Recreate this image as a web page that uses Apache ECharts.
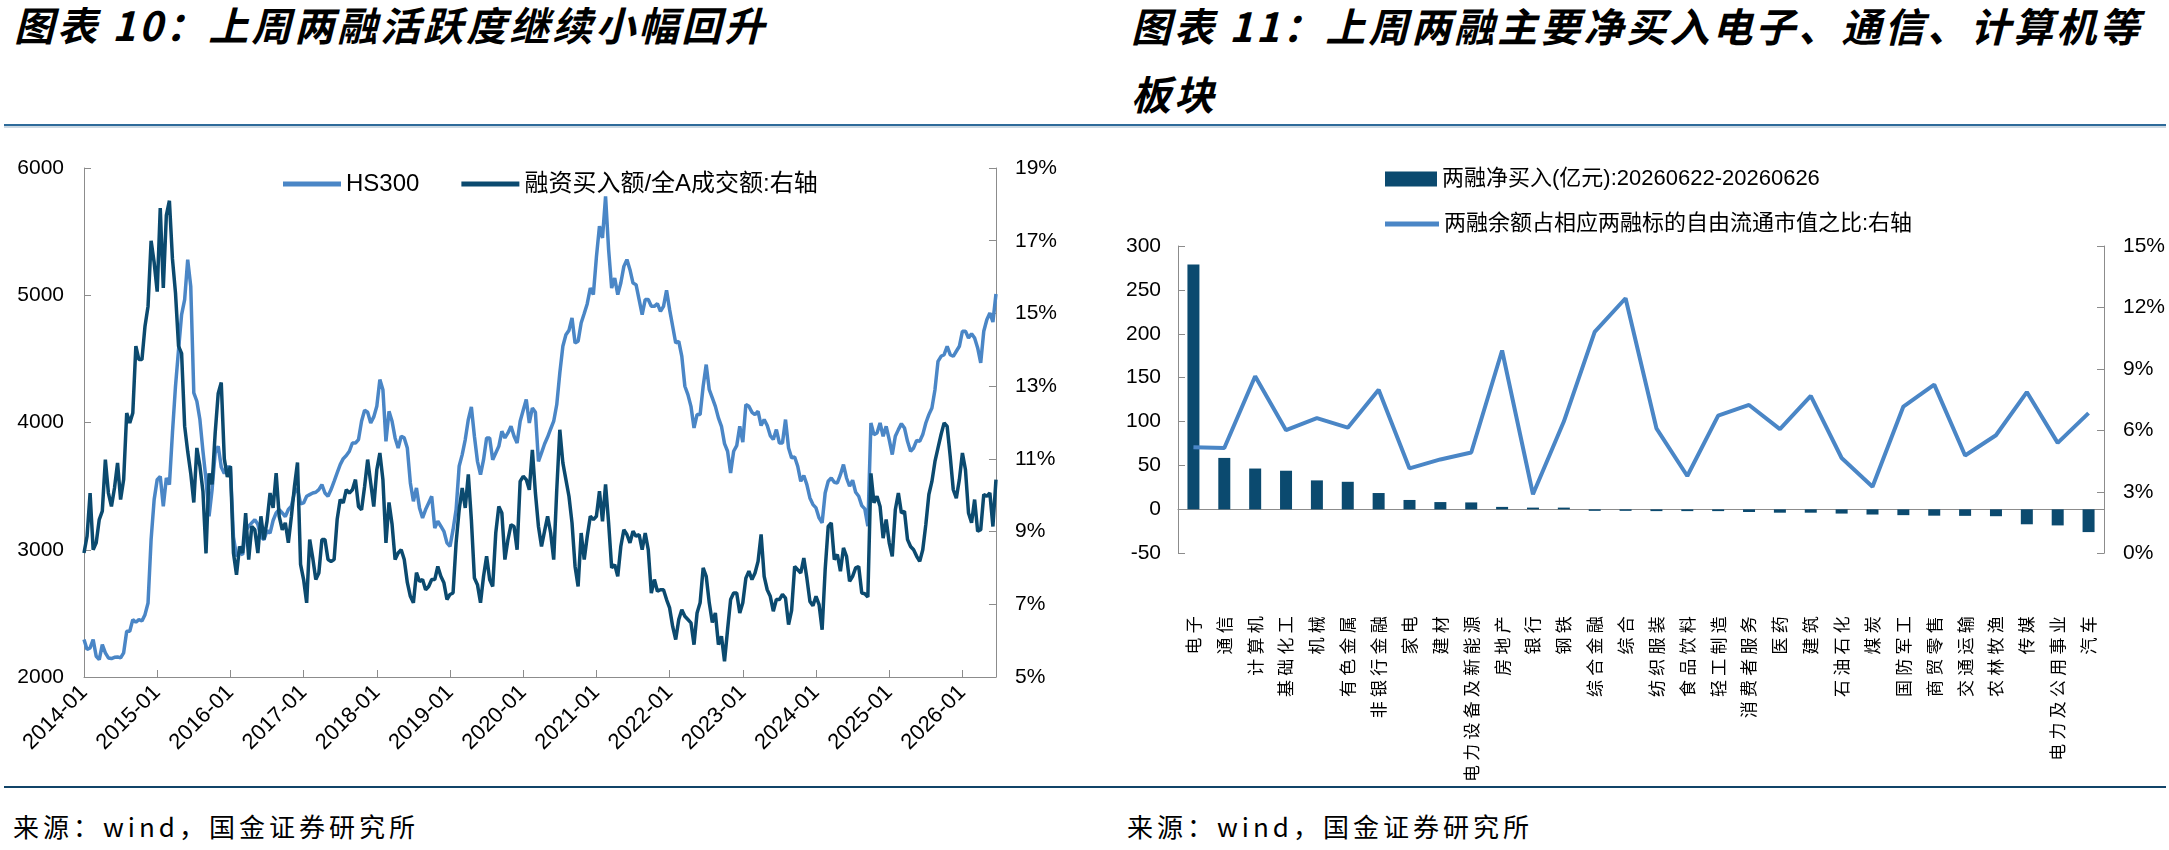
<!DOCTYPE html>
<html>
<head>
<meta charset="utf-8">
<title>两融活跃度 / 两融净买入</title>
<script src="https://cdn.jsdelivr.net/npm/echarts@6.0.0/dist/echarts.min.js"></script>
<style>
  body { margin: 0; width: 2169px; height: 850px; overflow: hidden; background: #fff; position: relative; }
  .title { position: absolute; font-family: "Noto Sans CJK SC"; font-weight: 700; font-style: italic;
           font-size: 40px; letter-spacing: 3px; color: #000; white-space: nowrap; }
  .rule { position: absolute; left: 4px; width: 2162px; }
  .source { position: absolute; top: 808px; font-family: "Noto Sans CJK SC"; font-size: 26px;
            line-height: 36px; letter-spacing: 4px; color: #000; white-space: nowrap; }
  #leftChart { position: absolute; left: 0; top: 0; width: 1060px; height: 785px; }
  #rightChart { position: absolute; left: 1100px; top: 0; width: 1069px; height: 785px; }
</style>
</head>
<body>
<div class="title" style="left:14px; top:0; line-height:48px;">图表 10：上周两融活跃度继续小幅回升</div>
<div class="title" style="left:1131px; top:-9px; line-height:68px;">图表 11：上周两融主要净买入电子、通信、计算机等<br>板块</div>
<div class="rule" style="top:124px; height:2px; background:#2e6b9a;"></div>
<div class="rule" style="top:126px; height:2px; background:#cdd9e3;"></div>

<div id="leftChart"></div>
<div id="rightChart"></div>

<div class="rule" style="top:786px; height:2px; background:#114468;"></div>
<div class="source" style="left:13px;">来源：wind，国金证券研究所</div>
<div class="source" style="left:1127px;">来源：wind，国金证券研究所</div>

<script type="text/javascript">
var FONT = "'Liberation Sans', 'Noto Sans CJK SC', sans-serif";
var AXIS_GRAY = '#8c8c8c';
var DARK = '#0b4a6f';
var LIGHT = '#4a86c6';

// ---- left chart: semi-monthly points, 2014-01 .. 2026-06 ----
var dates = [];
for (var y = 2014; y <= 2026; y++) {
  for (var m = 1; m <= 12; m++) {
    if (y === 2026 && m > 6) break;
    var mm = (m < 10 ? '0' : '') + m;
    dates.push(y + '-' + mm + '-01', y + '-' + mm + '-16');
  }
}

var hs300 = [
  2294, 2216, 2229, 2294, 2163, 2137, 2255, 2190, 2150, 2145, 2155, 2158, 2150, 2190, 2360, 2360, 2451, 2430, 2451, 2440, 2490, 2582, 3080, 3394, // 2014
  3551, 3577, 3342, 3564, 3512, 3918, 4285, 4573, 4848, 4966, 5280, 5070, 4232, 4167, 4023, 3774, 3551, 3263, 3473, 3761, 3813, 3650, 3600, 3650, // 2015
  3650, 3100, 2950, 2980, 2960, 3150, 3185, 3211, 3237, 3200, 3100, 3080, 3150, 3130, 3230, 3290, 3316, 3289, 3260, 3316, 3342, 3450, 3480, 3360, // 2016
  3368, 3420, 3433, 3446, 3452, 3473, 3512, 3446, 3420, 3473, 3538, 3604, 3669, 3716, 3740, 3774, 3839, 3839, 3866, 4010, 4096, 4080, 3996, 4044, // 2017
  4127, 4337, 4258, 3852, 4088, 4010, 3879, 3800, 3892, 3879, 3800, 3525, 3381, 3486, 3329, 3250, 3316, 3368, 3420, 3171, 3224, 3185, 3145, 3054, // 2018
  3027, 3158, 3316, 3656, 3748, 3866, 4023, 4122, 3892, 3695, 3590, 3708, 3879, 3879, 3708, 3761, 3813, 3931, 3879, 3918, 3970, 3892, 3839, 4010, // 2019
  4096, 4180, 3996, 4114, 4080, 3695, 3761, 3831, 3886, 3949, 4010, 4141, 4389, 4599, 4690, 4724, 4821, 4625, 4638, 4782, 4856, 4934, 5057, 5005, // 2020
  5300, 5542, 5450, 5777, 5358, 5057, 5136, 5005, 5096, 5227, 5280, 5201, 5096, 5083, 4966, 4848, 4966, 4966, 4913, 4913, 4934, 4874, 4913, 5039, // 2021
  4887, 4756, 4625, 4638, 4520, 4285, 4219, 4127, 3957, 4062, 4062, 4285, 4455, 4258, 4193, 4127, 4036, 3970, 3834, 3774, 3604, 3774, 3818, 3970, // 2022
  3845, 4141, 4127, 4080, 4062, 4088, 3976, 4023, 3976, 3897, 3866, 3944, 3839, 3839, 4023, 3800, 3722, 3729, 3656, 3538, 3583, 3512, 3407, 3355, // 2023
  3329, 3250, 3211, 3446, 3538, 3564, 3530, 3525, 3590, 3669, 3564, 3499, 3546, 3452, 3420, 3347, 3321, 3185, 3996, 3905, 3918, 3996, 3892, 3970, // 2024
  3866, 3748, 3892, 3944, 3991, 3957, 3852, 3774, 3800, 3860, 3852, 3905, 3996, 4062, 4114, 4258, 4481, 4520, 4533, 4599, 4533, 4520, 4560, 4599, // 2025
  4717, 4717, 4664, 4698, 4664, 4586, 4468, 4717, 4808, 4860, 4790, 5010                                                                          // 2026
];

var marginRatio = [
  8.41, 8.87, 10.06, 8.50, 8.69, 9.33, 9.56, 10.98, 10.06, 9.69, 10.20, 10.89, 9.88, 10.43, 12.26, 11.99, 12.26, 14.10, 13.73, 13.73, 14.65, 15.2, 17.0, 16.4, // 2014
  15.6, 17.9, 15.7, 17.7, 18.1, 16.5, 15.56, 14.1, 13.9, 11.9, 11.2, 10.6, 9.8, 11.3, 10.8, 10.1, 8.4, 10.6, 10.3, 11.7, 12.8, 13.1, 11.0, 10.5,               // 2015
  10.8, 8.41, 7.81, 8.59, 8.41, 9.51, 8.23, 9.14, 9.05, 8.41, 9.42, 8.78, 9.28, 10.06, 9.65, 10.61, 9.42, 9.05, 9.24, 8.69, 9.42, 10.24, 10.9, 8.1,         // 2016
  7.68, 7.04, 8.78, 8.27, 7.68, 7.86, 8.78, 8.78, 8.23, 8.18, 8.23, 9.33, 9.88, 9.79, 10.15, 10.06, 10.15, 10.43, 9.69, 9.60, 10.24, 10.98, 10.34, 9.69,    // 2017
  10.70, 11.16, 10.43, 8.69, 9.8, 9.2, 8.23, 8.41, 8.50, 8.23, 7.60, 7.22, 7.04, 7.87, 7.63, 7.68, 7.40, 7.49, 7.68, 7.68, 8.04, 7.77, 7.59, 7.13,          // 2018
  7.27, 7.31, 8.69, 9.60, 10.20, 9.65, 10.57, 9.33, 7.72, 7.54, 7.04, 7.77, 8.32, 7.68, 7.49, 8.96, 9.69, 9.51, 8.23, 8.78, 9.19, 9.14, 8.50, 10.38,       // 2019
  10.52, 10.43, 10.15, 11.25, 10.06, 9.14, 8.59, 9.01, 9.42, 8.96, 8.23, 10.15, 11.80, 10.89, 10.43, 9.97, 9.24, 8.04, 7.49, 8.96, 8.23, 8.87, 9.42, 9.33, // 2020
  9.42, 10.11, 9.28, 10.3, 9.24, 8.00, 8.09, 7.77, 8.59, 9.05, 8.92, 8.69, 9.01, 8.87, 8.92, 8.50, 8.96, 8.50, 7.31, 7.68, 7.36, 7.40, 7.40, 7.13,          // 2021
  6.90, 6.39, 6.03, 6.58, 6.85, 6.67, 6.58, 6.49, 5.89, 6.76, 7.04, 8.00, 7.77, 7.04, 6.50, 6.76, 5.89, 6.12, 5.43, 6.30, 7.13, 7.31, 7.31, 6.76,           // 2022
  7.04, 7.72, 7.91, 7.68, 7.86, 8.18, 8.92, 7.77, 7.40, 7.22, 6.81, 7.13, 7.13, 7.27, 7.17, 6.44, 6.83, 8.04, 7.95, 7.86, 8.27, 7.72, 7.08, 6.96,           // 2023
  7.22, 6.99, 6.30, 7.95, 9.14, 9.24, 8.23, 8.37, 7.91, 8.55, 8.32, 7.63, 7.77, 8.00, 8.04, 7.31, 7.29, 7.2, 10.6, 9.79, 9.97, 9.69, 8.82, 9.33,            // 2024
  8.69, 8.32, 9.60, 10.06, 9.51, 9.56, 8.78, 8.59, 8.50, 8.32, 8.18, 8.50, 9.19, 10.02, 10.38, 10.93, 11.30, 11.67, 11.99, 11.89, 11.07, 10.15, 9.92, 10.43, // 2025
  11.16, 10.70, 9.51, 9.24, 9.88, 9.01, 9.05, 10.02, 9.97, 10.06, 9.14, 10.43                                                                            // 2026
];

// ---- right chart ----
var sectors = ['电子', '通信', '计算机', '基础化工', '机械', '有色金属', '非银行金融', '家电', '建材', '电力设备及新能源',
  '房地产', '银行', '钢铁', '综合金融', '综合', '纺织服装', '食品饮料', '轻工制造', '消费者服务', '医药',
  '建筑', '石油石化', '煤炭', '国防军工', '商贸零售', '交通运输', '农林牧渔', '传媒', '电力及公用事业', '汽车'];
var netBuy = [279, 58.6, 46.5, 44, 33, 31.4, 18.6, 10.7, 8.3, 7.9,
  2.8, 2, 2, -1.7, -1.7, -2, -2, -2, -3, -3.8,
  -3.8, -4.8, -5.9, -6.6, -7.2, -7.4, -7.8, -17, -18.3, -25.9];
var balanceShare = [5.17, 5.14, 8.64, 6.01, 6.6, 6.13, 7.98, 4.14, 4.58, 4.92,
  9.9, 2.88, 6.43, 10.81, 12.45, 6.1, 3.77, 6.72, 7.24, 6.06,
  7.68, 4.65, 3.25, 7.16, 8.23, 4.77, 5.76, 7.87, 5.39, 6.84];

var barName = '两融净买入(亿元):20260622-20260626';
var lineName = '两融余额占相应两融标的自由流通市值之比:右轴';

function isYearStart(index, value) {
  return value.slice(5) === '01-01';
}

function valueAxis(opt) {
  var base = {
    type: 'value',
    axisLine: { show: true, lineStyle: { color: AXIS_GRAY, width: 1 } },
    axisTick: { show: true, inside: true, length: 7, lineStyle: { color: AXIS_GRAY } },
    splitLine: { show: false },
    axisLabel: { fontSize: 21, color: '#000', fontFamily: FONT, formatter: function (v) { return String(v); } }
  };
  for (var k in opt) {
    if (k === 'axisLabel') {
      for (var j in opt.axisLabel) base.axisLabel[j] = opt.axisLabel[j];
    } else {
      base[k] = opt[k];
    }
  }
  return base;
}

var leftOption = {
  animation: false,
  textStyle: { fontFamily: FONT },
  legend: {
    left: 278, top: 167,
    itemWidth: 58, itemHeight: 5, itemGap: 42, itemTextGap: 7,
    textStyle: { fontSize: 24, color: '#000', fontFamily: FONT },
    data: [{ name: 'HS300', icon: 'rect' }, { name: '融资买入额/全A成交额:右轴', icon: 'rect' }]
  },
  grid: { left: 84, top: 168, width: 931, height: 509 },
  xAxis: {
    type: 'category',
    data: dates,
    boundaryGap: false,
    axisLine: { lineStyle: { color: AXIS_GRAY, width: 1 } },
    axisTick: { inside: true, length: 7, interval: isYearStart, lineStyle: { color: AXIS_GRAY } },
    axisLabel: {
      interval: isYearStart, rotate: 45, margin: 12, fontSize: 22, color: '#000', fontFamily: FONT,
      formatter: function (v) { return v.slice(0, 7); }
    }
  },
  yAxis: [
    valueAxis({ min: 2000, max: 6000, interval: 1000, position: 'left', axisLabel: { margin: 20 } }),
    valueAxis({ min: 5, max: 19, interval: 2, position: 'right', axisLabel: { margin: 19, formatter: '{value}%' } })
  ],
  series: [
    {
      name: 'HS300', type: 'line', data: hs300, yAxisIndex: 0,
      symbol: 'none', lineStyle: { color: LIGHT, width: 3.5 }, itemStyle: { color: LIGHT }
    },
    {
      name: '融资买入额/全A成交额:右轴', type: 'line', data: marginRatio, yAxisIndex: 1,
      symbol: 'none', lineStyle: { color: DARK, width: 3.5 }, itemStyle: { color: DARK }
    }
  ]
};

var rightOption = {
  animation: false,
  textStyle: { fontFamily: FONT },
  legend: [
    {
      left: 280, top: 163, itemWidth: 52, itemHeight: 15, itemTextGap: 7,
      textStyle: { fontSize: 22, color: '#000', fontFamily: FONT },
      data: [{ name: barName, icon: 'rect' }]
    },
    {
      left: 280, top: 208, itemWidth: 54, itemHeight: 5, itemTextGap: 5,
      textStyle: { fontSize: 22, color: '#000', fontFamily: FONT },
      data: [{ name: lineName, icon: 'rect' }]
    }
  ],
  grid: { left: 78, top: 246, width: 926, height: 339 },
  xAxis: {
    type: 'category',
    data: sectors,
    axisLine: { onZero: true, lineStyle: { color: AXIS_GRAY, width: 1 } },
    axisTick: { inside: true, length: 6, lineStyle: { color: AXIS_GRAY } },
    axisLabel: {
      interval: 0, rotate: 90, margin: 63, fontSize: 17, color: '#000',
      fontFamily: "'Noto Sans CJK SC', sans-serif",
      formatter: function (v) { return v.split('').join('\u2005'); }
    }
  },
  yAxis: [
    valueAxis({ min: -50, max: 300, interval: 50, position: 'left', axisLabel: { margin: 17 } }),
    valueAxis({ min: 0, max: 15, interval: 3, position: 'right', axisLabel: { margin: 19, formatter: '{value}%' } })
  ],
  series: [
    {
      name: barName, type: 'bar', data: netBuy, yAxisIndex: 0,
      barWidth: 12, itemStyle: { color: DARK }
    },
    {
      name: lineName, type: 'line', data: balanceShare, yAxisIndex: 1,
      symbol: 'none', lineStyle: { color: LIGHT, width: 4 }, itemStyle: { color: LIGHT }
    }
  ]
};

var leftChart = echarts.init(document.getElementById('leftChart'));
leftChart.setOption(leftOption);
var rightChart = echarts.init(document.getElementById('rightChart'));
rightChart.setOption(rightOption);
</script>
</body>
</html>
